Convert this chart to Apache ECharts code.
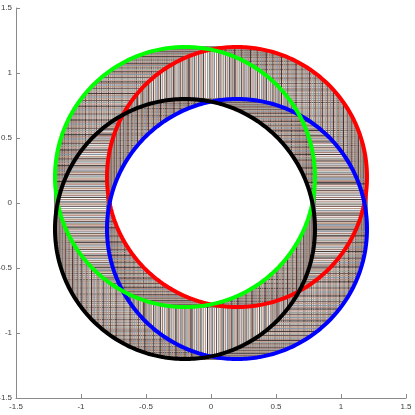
<!DOCTYPE html>
<html>
<head>
<meta charset="utf-8">
<style>html,body{margin:0;padding:0;background:#fff;}#c{width:415px;height:415px;}</style>
<script src="https://cdn.jsdelivr.net/npm/echarts@6/dist/echarts.min.js"></script>
</head>
<body>
<div id="c"></div>
<script>
// Circle definitions (order: red, green, black, blue)
var circleNames = ['red', 'green', 'black', 'blue'];
var circleCenterX = [0.2, -0.2, -0.2, 0.2];
var circleCenterY = [0.2, 0.2, -0.2, -0.2];
var circleColors = ['#ff0000', '#00ff00', '#000000', '#0000ff'];
var circleDrawOrder = [0, 3, 1, 2];
var radius = 1;
var stepCount = 360;
// muted colours used for the connecting squares
var lineColors = ['#3e3634', '#a98276', '#8494a3', '#b8967f', '#6e5654', '#98a298', '#c59f96'];
var tickValues = [-1.5, -1, -0.5, 0, 0.5, 1, 1.5];
var tickLabels = ['-1.5', '-1', '-0.5', '0', '0.5', '1', '1.5'];

function labelFor(v) {
  for (var i = 0; i < tickValues.length; i++) if (Math.abs(tickValues[i] - v) < 1e-9) return tickLabels[i];
  return '';
}

function meanCenter() {
  var mx = 0, my = 0;
  for (var i = 0; i < circleCenterX.length; i++) { mx += circleCenterX[i]; my += circleCenterY[i]; }
  return [mx / circleCenterX.length, my / circleCenterY.length];
}

// square centers on the unit circle (midpoint of corresponding circle points)
var squares = [];
var mc = meanCenter();
for (var k = 0; k < stepCount; k++) {
  var t = 2 * Math.PI * k / stepCount;
  squares.push([mc[0] + radius * Math.cos(t), mc[1] + radius * Math.sin(t), k % lineColors.length]);
}

var series = [{
  type: 'custom',
  coordinateSystem: 'cartesian2d',
  silent: true,
  animation: false,
  clip: false,
  data: squares,
  encode: {x: 0, y: 1},
  renderItem: function (params, api) {
    var cx = api.value(0), cy = api.value(1), ci = api.value(2);
    var pts = [];
    for (var j = 0; j < 4; j++) {
      pts.push(api.coord([cx + circleCenterX[j] - mc[0], cy + circleCenterY[j] - mc[1]]));
    }
    return {
      type: 'polygon',
      shape: {points: pts},
      style: {fill: 'none', stroke: lineColors[ci], lineWidth: 1}
    };
  },
  z: 1
}];

circleDrawOrder.forEach(function (i) {
  var pts = [];
  for (var k = 0; k <= stepCount; k++) {
    var t = 2 * Math.PI * k / stepCount;
    pts.push([circleCenterX[i] + radius * Math.cos(t), circleCenterY[i] + radius * Math.sin(t)]);
  }
  series.push({
    type: 'line',
    name: circleNames[i],
    data: pts,
    showSymbol: false,
    silent: true,
    animation: false,
    lineStyle: {color: circleColors[i], width: 4},
    z: 2
  });
});

var axisCommon = {
  type: 'value',
  min: -1.5, max: 1.5, interval: 0.5,
  axisLine: {show: true, onZero: false, lineStyle: {color: '#8a8a8a', width: 1}},
  axisTick: {show: true, inside: true, length: 4, lineStyle: {color: '#8a8a8a'}},
  splitLine: {show: false},
  axisLabel: {color: '#404040', fontSize: 8, fontFamily: 'Liberation Sans, Arial, sans-serif', formatter: labelFor}
};

var chart = echarts.init(document.getElementById('c'), null, {renderer: 'canvas'});
chart.setOption({
  animation: false,
  backgroundColor: '#ffffff',
  grid: {left: 16, right: 9, top: 8, bottom: 17, containLabel: false, outerBoundsMode: 'none'},
  xAxis: Object.assign({}, axisCommon, {axisLabel: Object.assign({}, axisCommon.axisLabel, {margin: 5})}),
  yAxis: Object.assign({}, axisCommon, {axisLabel: Object.assign({}, axisCommon.axisLabel, {margin: 4})}),
  series: series
});
</script>
</body>
</html>
